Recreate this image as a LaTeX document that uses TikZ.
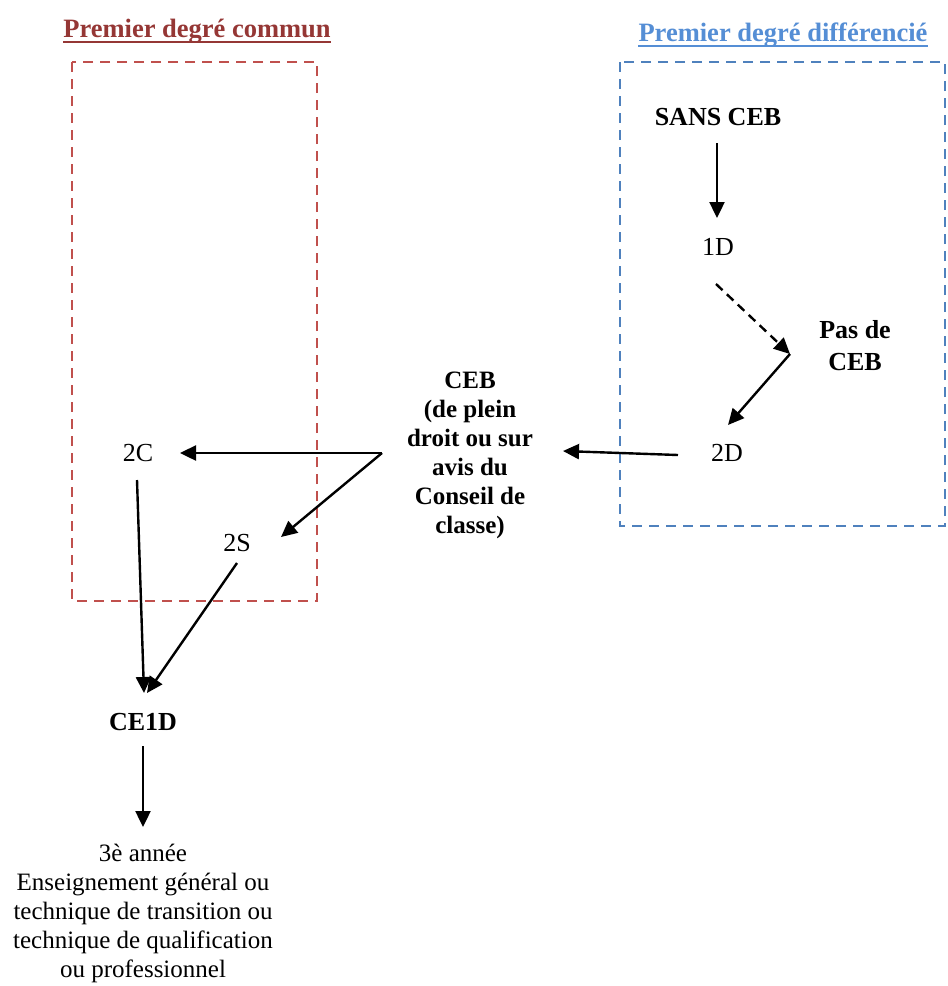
\documentclass[tikz,border=0pt]{standalone}
\usepackage{fontspec}
\setmainfont{Liberation Serif}
\usetikzlibrary{arrows.meta,calc}
\definecolor{redtitle}{HTML}{953735}
\definecolor{redbox}{HTML}{C0504D}
\definecolor{bluetitle}{HTML}{558ED5}
\definecolor{bluebox}{HTML}{4F81BD}
\begin{document}
\begin{tikzpicture}[x=1pt,y=-1pt,
  lbl/.style={inner sep=0pt,font=\fontsize{26}{32}\selectfont},
  blbl/.style={inner sep=0pt,align=center,font=\fontsize{26}{32}\selectfont\bfseries},
  ttl/.style={inner sep=0pt,font=\fontsize{26.5}{32}\selectfont\bfseries},
  frame/.style={line width=2.2pt,dash pattern=on 10pt off 7pt},
  arr/.style={line width=2.4pt,-{Triangle[length=16pt,width=15pt]}},
  uline/.style={line width=2.4pt}]
\useasboundingbox (0,0) rectangle (948,986);
% frames
\draw[frame,redbox] (72,62) rectangle (317,601);
\draw[frame,bluebox] (620,62) rectangle (945,526);
% titles
\node[ttl,text=redtitle,anchor=base] (t1) at (197,37) {Premier degré commun};
\draw[uline,redtitle] ([shift={(0,5)}]t1.base west) -- ([shift={(0,5)}]t1.base east);
\node[ttl,text=bluetitle,anchor=base] (t2) at (783,41) {Premier degré différencié};
\draw[uline,bluetitle] ([shift={(0,5)}]t2.base west) -- ([shift={(0,5)}]t2.base east);
% nodes
\node[blbl] (sans) at (718,117) {SANS CEB};
\node[lbl] (d1) at (718,247) {1D};
\node[blbl] (pas) at (855,346) {Pas de\\CEB};
\coordinate (pasj) at (790,354);
\node[lbl] (d2) at (727,453) {2D};
\node[inner sep=0pt,align=center,font=\fontsize{25}{29}\selectfont\bfseries] (ceb) at (470,455)
  {CEB\\(de plein\\droit ou sur\\avis du\\Conseil de\\classe)};
\coordinate (split) at (382,453);
\node[lbl] (c2) at (138,453) {2C};
\node[lbl] (s2) at (237,543) {2S};
\node[blbl] (ce1d) at (143,722) {CE1D};
\node[inner sep=0pt,align=center,font=\fontsize{25}{29}\selectfont] (bot) at (143,913)
  {3è année\\Enseignement général ou\\technique de transition ou\\technique de qualification\\ou professionnel};
% connectors
\draw[arr] ([shift={(-1,26)}]sans.center) -- ([shift={(-1,-29)}]d1.center);
\draw[arr,dash pattern=on 9pt off 6pt] ([shift={(-2,37)}]d1.center) -- (pasj);
\draw[arr] (pasj) -- ([shift={(1,-28)}]d2.center);
\draw[arr] ([shift={(-49,2)}]d2.center) -- ([shift={(93,-4)}]ceb.center);
\draw[arr] (split) -- ([shift={(42,0)}]c2.center);
\draw[arr] (split) -- ([shift={(44,-6)}]s2.center);
\draw[arr] ([shift={(-1,27)}]c2.center) -- ([shift={(1,-29)}]ce1d.center);
\draw[arr] ([shift={(0,20)}]s2.center) -- ([shift={(4,-29)}]ce1d.center);
\draw[arr] ([shift={(0,24)}]ce1d.center) -- ([shift={(0,-86)}]bot.center);
\end{tikzpicture}
\end{document}
